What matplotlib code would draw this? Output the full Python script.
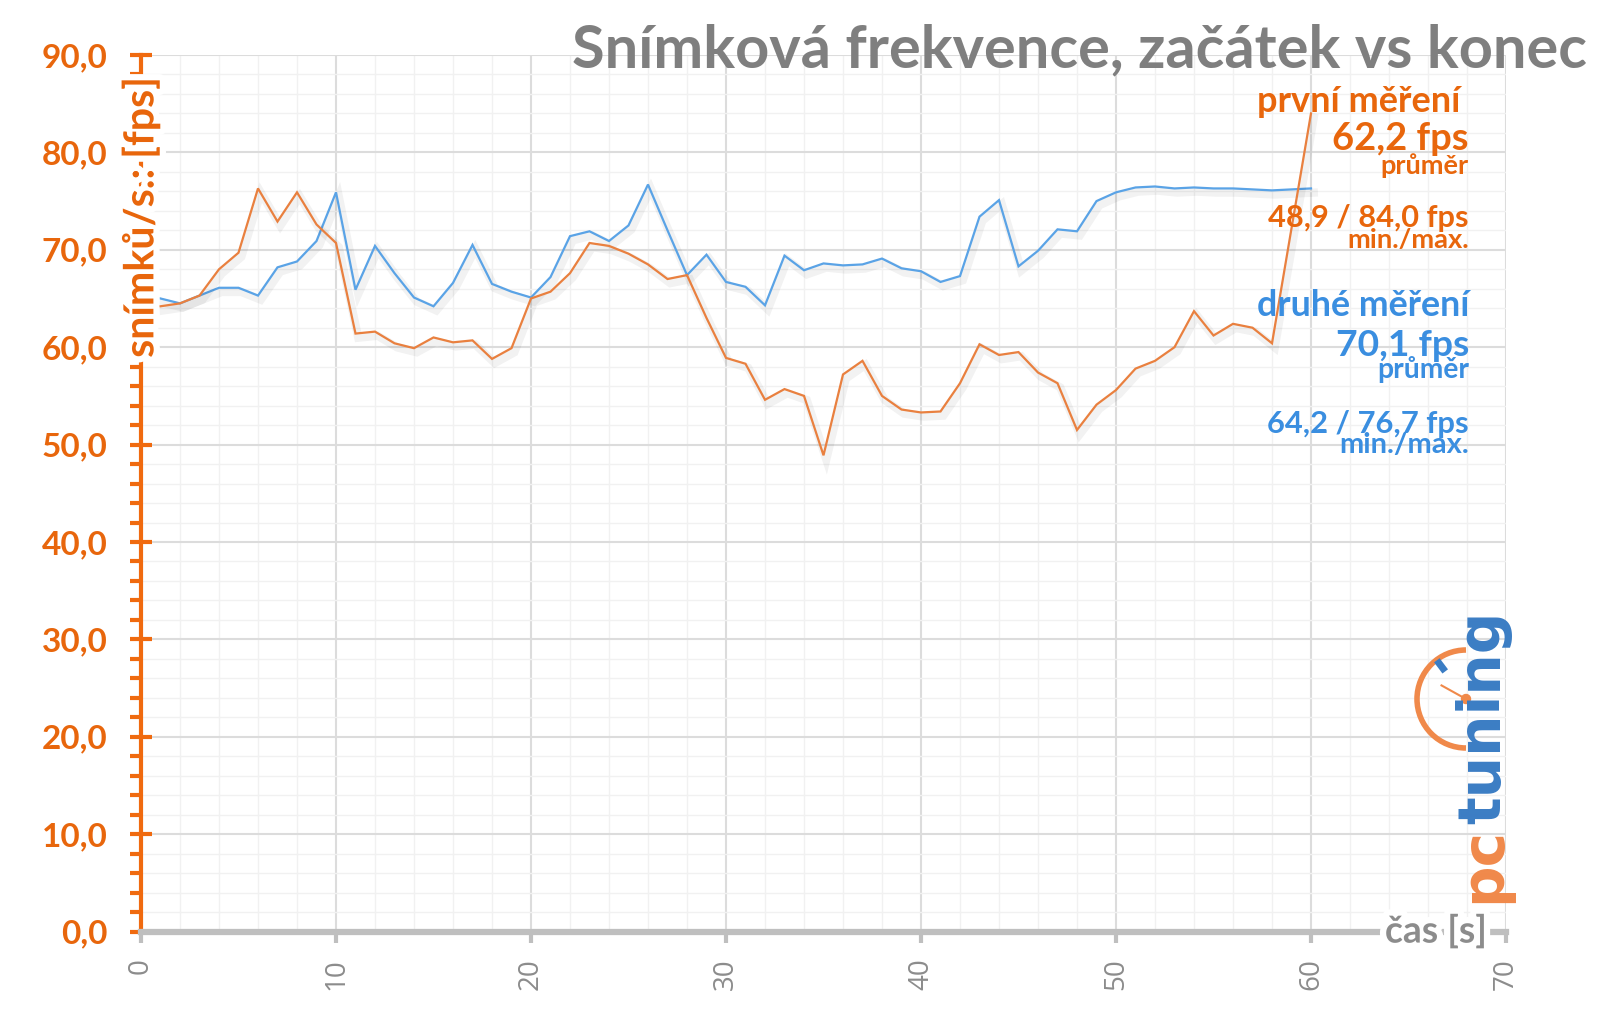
import math
import matplotlib
matplotlib.use("Agg")
import matplotlib.pyplot as plt
import matplotlib.patheffects as pe
from matplotlib.ticker import MultipleLocator
from matplotlib.patches import Arc, Circle
from matplotlib.lines import Line2D
from matplotlib.transforms import blended_transform_factory

# ---------------- data ----------------
time_s = list(range(1, 61))
first_fps = [64.2, 64.5, 65.3, 68.0, 69.7, 76.3, 72.9, 75.9, 72.6, 70.7,
             61.4, 61.6, 60.4, 59.9, 61.0, 60.5, 60.7, 58.8, 59.9, 65.0,
             65.7, 67.6, 70.7, 70.4, 69.6, 68.5, 67.0, 67.4, 63.0, 58.9,
             58.3, 54.6, 55.7, 55.0, 48.9, 57.2, 58.6, 55.0, 53.6, 53.3,
             53.4, 56.3, 60.3, 59.2, 59.5, 57.4, 56.3, 51.5, 54.1, 55.6,
             57.8, 58.6, 60.0, 63.7, 61.2, 62.4, 62.0, 60.4, 72.2, 84.0]
second_fps = [65.0, 64.5, 65.3, 66.1, 66.1, 65.3, 68.2, 68.8, 70.9, 75.9,
              65.9, 70.4, 67.6, 65.1, 64.2, 66.6, 70.5, 66.5, 65.7, 65.1,
              67.2, 71.4, 71.9, 70.9, 72.5, 76.7, 72.0, 67.4, 69.5, 66.7,
              66.2, 64.3, 69.4, 67.9, 68.6, 68.4, 68.5, 69.1, 68.1, 67.8,
              66.7, 67.3, 73.4, 75.1, 68.3, 69.9, 72.1, 71.9, 75.0, 75.9,
              76.4, 76.5, 76.3, 76.4, 76.3, 76.3, 76.2, 76.1, 76.2, 76.3]

x_ticks = [0, 10, 20, 30, 40, 50, 60, 70]
x_tick_labels = ["0", "10", "20", "30", "40", "50", "60", "70"]
y_ticks = [0, 10, 20, 30, 40, 50, 60, 70, 80, 90]
y_tick_labels = ["0,0", "10,0", "20,0", "30,0", "40,0", "50,0", "60,0", "70,0", "80,0", "90,0"]

title_text = "Snímková frekvence, začátek vs konec"
y_label = "snímků/s.: [fps]"
x_label = "čas [s]"
first_name = "první měření "
first_avg = "62,2 fps"
first_minmax = "48,9 / 84,0 fps"
second_name = "druhé měření"
second_avg = "70,1 fps"
second_minmax = "64,2 / 76,7 fps"
avg_word = "průměr"
minmax_word = "min./max."

# ---------------- style ----------------
FONT = ["Lato", "Open Sans", "DejaVu Sans"]
ORANGE_AX = "#F06A0F"
ORANGE_TXT = "#E8660C"
ORANGE_LINE = "#E9803F"
BLUE_TXT = "#3A8EE0"
BLUE_LINE = "#5AA3E6"
GRAY_AX = "#BFBFBF"
GRAY_TXT = "#8C8C8C"
TITLE_GRAY = "#7F7F7F"
LOGO_BLUE = "#3B7DC4"
LOGO_ORANGE = "#F0894A"

plt.rcParams["font.family"] = FONT

W, H = 1600, 1015
fig = plt.figure(figsize=(W / 100, H / 100), dpi=100)
ax = fig.add_axes([141 / W, 1 - 931.6 / H, (1506 - 141) / W, (931.6 - 55) / H])

ax.set_xlim(0, 70)
ax.set_ylim(0, 90)
ax.xaxis.set_minor_locator(MultipleLocator(2))
ax.yaxis.set_minor_locator(MultipleLocator(2))
ax.grid(which="major", color="#DCDCDC", lw=1.5)
ax.grid(which="minor", color="#F1F1F1", lw=1.0)
ax.set_axisbelow(True)

for s in ("top", "right"):
    ax.spines[s].set_visible(False)
ax.spines["left"].set_color(ORANGE_AX)
ax.spines["left"].set_linewidth(3)
ax.spines["bottom"].set_color(GRAY_AX)
ax.spines["bottom"].set_linewidth(4.5)

ax.set_yticks(y_ticks, labels=y_tick_labels, fontsize=24, fontweight="bold",
              color=ORANGE_TXT, family=FONT)
ax.set_xticks(x_ticks, labels=x_tick_labels, fontsize=20, rotation=90,
              color=GRAY_TXT, family=["Open Sans", "DejaVu Sans"])
ax.tick_params(axis="y", which="major", direction="inout", length=16, width=3,
               color=ORANGE_AX, pad=16)
ax.tick_params(axis="y", which="minor", direction="out", length=8, width=3,
               color=ORANGE_AX)
ax.tick_params(axis="x", which="major", direction="out", length=8, width=3,
               color=GRAY_AX, pad=11)
ax.tick_params(axis="x", which="minor", length=0)

shadow = [pe.SimpleLineShadow(offset=(2, -3), shadow_color="black",
                              alpha=0.05, linewidth=6), pe.Normal()]
ax.plot(time_s, second_fps, color=BLUE_LINE, lw=1.6, zorder=3,
        path_effects=shadow, solid_joinstyle="miter")
ax.plot(time_s, first_fps, color=ORANGE_LINE, lw=1.6, zorder=4,
        path_effects=shadow, solid_joinstyle="miter")

renderer = fig.canvas.get_renderer()


def fit(t, target, vertical=False):
    bb = t.get_window_extent(renderer)
    cur = bb.height if vertical else bb.width
    t.set_fontsize(t.get_fontsize() * target / cur)


white = [pe.withStroke(linewidth=9, foreground="white")]

# y axis label, sitting on the spine
ytr = blended_transform_factory(ax.transData, ax.transAxes)
yl = ax.text(0, (931.6 - 77) / 876.6, y_label, transform=ytr, rotation=90,
             rotation_mode="anchor", ha="right", va="center",
             color=ORANGE_TXT, fontweight="bold", fontsize=28,
             path_effects=white, zorder=6, clip_on=False)
fit(yl, 280, vertical=True)

# x axis label, sitting on the axis line
xtr = blended_transform_factory(ax.transAxes, ax.transData)
xl = ax.text((1436 - 141) / 1365, 0, x_label, transform=xtr, ha="center",
             va="center", color=GRAY_TXT, fontweight="bold", fontsize=26,
             path_effects=white, zorder=6, clip_on=False)
fit(xl, 102)

# title
tt = fig.text(1587 / W, 1 - 67 / H, title_text, ha="right", va="baseline",
              color=TITLE_GRAY, fontweight="bold", fontsize=40)
fit(tt, 1014)

# annotations: (text, color, right edge px, baseline px, width px)
ann = [
    (first_name, ORANGE_TXT, 1469, 111.7, 212),
    (first_avg, ORANGE_TXT, 1469, 150, 136),
    (avg_word, ORANGE_TXT, 1469, 174, 88),
    (first_minmax, ORANGE_TXT, 1469, 226.7, 201),
    (minmax_word, ORANGE_TXT, 1469, 247.7, 122),
    (second_name, BLUE_TXT, 1469, 315.7, 213),
    (second_avg, BLUE_TXT, 1469, 356, 134),
    (avg_word, BLUE_TXT, 1469, 377.7, 92),
    (second_minmax, BLUE_TXT, 1469, 432.7, 202),
    (minmax_word, BLUE_TXT, 1469, 453.3, 130),
]
for txt, col, xr, yb, wd in ann:
    t = fig.text(xr / W, 1 - yb / H, txt, ha="right", va="baseline",
                 color=col, fontweight="bold", fontsize=20, zorder=7)
    fit(t, wd)

# ---------------- logo ----------------
logo_font = ["DejaVu Sans"]
base_x = 1500 / W
t_tun = fig.text(base_x, 0.5, "tuning", rotation=90, rotation_mode="anchor",
                 ha="left", va="baseline", fontsize=40, fontweight="bold",
                 family=logo_font, color=LOGO_BLUE, zorder=7)
fit(t_tun, 213, vertical=True)
t_pc = fig.text(base_x, 1 - 903 / H, "pc", rotation=90, rotation_mode="anchor",
                ha="left", va="baseline", fontsize=t_tun.get_fontsize(),
                fontweight="bold", family=logo_font, color=LOGO_ORANGE, zorder=7)
pc_len = t_pc.get_window_extent(renderer).height
t_tun.set_position((base_x, 1 - (903 - pc_len - 3) / H))

cx, cy, r = 1466 / 100, (H - 699) / 100, 0.49
fig.add_artist(Arc((cx, cy), 2 * r, 2 * r, theta1=90, theta2=270,
                   transform=fig.dpi_scale_trans, color=LOGO_ORANGE, lw=4))
a = math.radians(127)
fig.add_artist(Line2D([cx + 0.38 * math.cos(a), cx + 0.45 * math.cos(a)],
                      [cy + 0.38 * math.sin(a), cy + 0.45 * math.sin(a)],
                      transform=fig.dpi_scale_trans, color=LOGO_BLUE, lw=5))
a = math.radians(151)
fig.add_artist(Line2D([cx, cx + 0.28 * math.cos(a)], [cy, cy + 0.28 * math.sin(a)],
                      transform=fig.dpi_scale_trans, color=LOGO_ORANGE, lw=1.5))
fig.add_artist(Circle((cx, cy), 0.045, transform=fig.dpi_scale_trans,
                      color=LOGO_ORANGE))

fig.savefig("out.png", dpi=100, facecolor="white")
